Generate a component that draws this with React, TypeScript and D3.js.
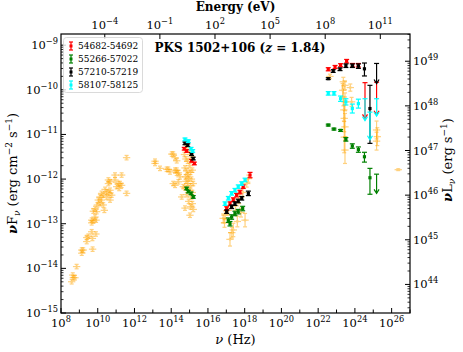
import * as d3 from 'd3';

const H_EV = 4.1357e-15; // Planck constant, eV s
const L_OFFSET = 58.36; // log10(4 pi dL^2) for z = 1.84

// archival data (orange), log10 nu / log10 nuFnu
const archNu = [8.58, 8.67, 8.76, 8.64, 8.85, 9.13, 9.13, 9.21, 9.72, 9.4, 9.4, 9.49, 9.71, 9.67, 9.9, 9.67, 9.67, 9.76, 9.85, 9.91, 9.76, 9.94, 9.85, 9.98, 10.12, 10.03, 10.21, 10.3, 10.12, 10.3, 10.49, 10.67, 10.36, 10.21, 10.49, 10.63, 10.4, 10.67, 10.76, 10.58, 10.58, 10.67, 10.94, 10.94, 11.12, 11.3, 11.21, 11.3, 11.03, 11.17, 11.57, 11.57,
  13.12, 13.12, 13.39, 13.75, 14.03, 13.93, 14.21, 14.3, 14.11, 14.21, 14.39, 14.11, 14.21, 14.3, 13.84, 14.3, 14.39, 14.48, 14.66, 14.57, 14.75, 15.02,
  14.72, 14.8, 14.9, 15.0, 14.75, 14.85, 15.05, 14.78, 14.95, 15.1, 14.8, 14.9, 15.05, 14.75, 15.0, 15.15, 14.85, 15.1, 14.95, 15.15, 15.05, 15.2, 14.9, 15.15, 15.2, 14.82, 15.0, 15.1];
const archF = [-14.3, -14.21, -14.21, -14.15, -13.96, -13.66, -13.59, -13.59, -13.57, -13.4, -13.31, -13.28, -13.33, -13.18, -13.23, -12.98, -12.92, -12.94, -12.85, -12.92, -12.72, -12.73, -12.66, -12.58, -12.55, -12.47, -12.47, -12.58, -12.4, -12.36, -12.4, -12.47, -12.7, -12.32, -12.29, -12.32, -12.23, -12.25, -12.36, -12.1, -12.02, -12.06, -11.91, -12.02, -12.1, -11.91, -12.1, -12.14, -12.17, -12.21, -12.32, -11.52,
  -11.65, -11.6, -11.76, -11.78, -11.44, -11.84, -11.8, -11.87, -12.1, -12.14, -12.06, -11.44, -11.52, -11.59, -11.78, -11.8, -11.86, -11.95, -12.17, -12.4, -12.65, -12.81,
  -11.45, -11.55, -11.6, -11.7, -11.75, -11.82, -11.85, -11.95, -11.98, -12.0, -12.05, -12.1, -12.15, -12.2, -12.25, -12.3, -12.35, -12.4, -12.5, -12.55, -12.62, -12.68, -11.9, -11.8, -12.1, -11.3, -11.4, -11.5];

const archXNu = [16.83, 16.93, 17.38, 18.02, 18.2, 18.11, 17.1, 17.5, 17.7, 17.9, 17.6, 16.9, 17.3, 17.2, 17.8];
const archXF = [-12.88, -12.81, -13.14, -12.92, -11.99, -12.1, -12.7, -12.6, -12.45, -12.3, -12.95, -12.98, -13.2, -13.35, -12.75];
const archXErr = [0.1, 0.1, 0.15, 0.15, 0.08, 0.08, 0.1, 0.1, 0.1, 0.1, 0.12, 0.1, 0.12, 0.15, 0.1];

const archGNu = [22.64, 23.37, 23.46, 23.33, 23.37, 23.46, 23.4, 23.42, 23.46, 23.42, 23.46, 23.82, 23.75, 25.18, 25.22, 25.18, 26.36];
const archGF = [-9.7, -9.82, -9.9, -10.01, -10.16, -10.27, -10.45, -10.64, -10.83, -11.06, -11.35, -10.27, -9.95, -10.9, -11.05, -11.15, -11.79];
const archGErr = [0.05, 0.1, 0.1, 0.15, 0.2, 0.2, 0.25, 0.3, 0.3, 0.35, 0.3, 0.1, 0.08, 0.2, 0.2, 0.2, 0.02];

// epoch 54682-54692 (red)
const ep1Nu = [14.71, 14.84, 15.11, 15.26, 17.02, 17.2, 17.38, 17.56, 17.74, 17.92, 18.29, 22.55, 22.92, 23.22, 23.55, 23.88, 24.19];
const ep1F = [-11.32, -11.37, -11.59, -11.65, -12.66, -12.55, -12.46, -12.36, -12.29, -12.17, -11.91, -9.54, -9.49, -9.45, -9.36, -9.45, -9.45];
const ep1Lo = [0.03, 0.03, 0.03, 0.03, 0.04, 0.04, 0.04, 0.04, 0.04, 0.04, 0.06, 0.035, 0.035, 0.035, 0.04, 0.04, 0.04];
const ep1Hi = ep1Lo;
const ep1UlNu = [24.55, 25.18];
const ep1UlTop = [-9.84, -9.83];
const ep1UlBot = [-10.64, -10.56];

// epoch 55266-57022 (green)
const ep2Nu = [14.84, 14.93, 15.08, 15.2, 17.11, 17.2, 17.29, 17.47, 17.65, 17.89, 22.55, 22.86, 23.22, 23.51, 23.86, 24.19, 24.52, 24.82];
const ep2F = [-12.21, -12.28, -12.32, -12.4, -12.92, -13.0, -12.85, -12.77, -12.73, -12.66, -10.79, -10.88, -10.91, -11.11, -11.26, -11.34, -11.5, -11.97];
const ep2Lo = [0.03, 0.03, 0.03, 0.03, 0.05, 0.05, 0.05, 0.05, 0.05, 0.05, 0.02, 0.02, 0.02, 0.04, 0.05, 0.06, 0.12, 0.37];
const ep2Hi = [0.03, 0.03, 0.03, 0.03, 0.05, 0.05, 0.05, 0.05, 0.05, 0.05, 0.02, 0.02, 0.02, 0.04, 0.05, 0.06, 0.1, 0.21];
const ep2UlNu = [25.18];
const ep2UlTop = [-11.89];
const ep2UlBot = [-12.32];

// epoch 57210-57219 (black)
const ep3Nu = [14.75, 14.9, 15.11, 15.2, 17.02, 17.29, 17.47, 17.65, 17.84, 18.2, 22.55, 22.82, 23.19, 23.51, 23.86, 24.19, 24.52, 24.82];
const ep3F = [-11.2, -11.24, -11.44, -11.54, -12.73, -12.62, -12.55, -12.49, -12.43, -12.32, -9.75, -9.58, -9.54, -9.46, -9.46, -9.47, -9.53, -10.42];
const ep3Lo = [0.03, 0.03, 0.03, 0.03, 0.04, 0.04, 0.04, 0.04, 0.04, 0.05, 0.02, 0.03, 0.03, 0.04, 0.04, 0.05, 0.16, 0.78];
const ep3Hi = [0.03, 0.03, 0.03, 0.03, 0.04, 0.04, 0.04, 0.04, 0.04, 0.05, 0.02, 0.03, 0.03, 0.04, 0.04, 0.05, 0.13, 0.52];
const ep3UlNu = [25.18];
const ep3UlTop = [-9.41];
const ep3UlBot = [-9.86];

// epoch 58107-58125 (cyan)
const ep4Nu = [14.75, 14.93, 15.08, 15.17, 16.93, 17.11, 17.29, 17.47, 17.65, 17.84, 18.02, 22.55, 22.86, 23.22, 23.51, 23.86, 24.19];
const ep4F = [-11.11, -11.15, -11.32, -11.37, -12.55, -12.43, -12.32, -12.25, -12.17, -12.1, -12.02, -10.08, -10.08, -10.2, -10.27, -10.42, -10.31];
const ep4Lo = [0.03, 0.03, 0.03, 0.03, 0.04, 0.04, 0.04, 0.04, 0.04, 0.04, 0.04, 0.04, 0.04, 0.06, 0.07, 0.1, 0.1];
const ep4Hi = ep4Lo;
const ep4UlNu = [24.55, 24.82, 25.18];
const ep4UlTop = [-10.2, -10.5, -10.2];
const ep4UlBot = [-10.69, -11.12, -10.59];

const epochLabels = ['54682-54692', '55266-57022', '57210-57219', '58107-58125'];
const epochColors = ['#ff0000', '#008000', '#000000', '#00ffff'];

const xTickExps = [8, 10, 12, 14, 16, 18, 20, 22, 24, 26];
const yTickExps = [-15, -14, -13, -12, -11, -10, -9];
const rTickExps = [44, 45, 46, 47, 48, 49];
const eTickExps = [-4, -1, 2, 5, 8, 11];

const W = 463, H = 352;
const L = 61, R = 410, T = 34, B = 313;
const FONT = 'DejaVu Serif';

const x = d3.scaleLog().domain([1e8, 1e27]).range([L, R]);
const y = d3.scaleLog().domain([1e-15, Math.pow(10, -8.75)]).range([B, T]);
const yR = d3.scaleLog().domain([Math.pow(10, -15 + L_OFFSET), Math.pow(10, -8.75 + L_OFFSET)]).range([B, T]);
const xE = d3.scaleLog().domain([1e8 * H_EV, 1e27 * H_EV]).range([L, R]);

const p = (v: number) => Math.pow(10, v);

function minorVals(scale: any, lo: number, hi: number) {
  const out: number[] = [];
  for (let d = lo; d <= hi; d++) for (let k = 2; k <= 9; k++) {
    const v = k * p(d);
    const [a, b] = scale.domain();
    if (v > a && v < b) out.push(v);
  }
  return out;
}

const Pow = ({ x, y, e, anchor, size = 11.5 }: any) => (
  <text x={x} y={y} textAnchor={anchor} fontFamily={FONT} fontSize={size}>
    10<tspan dy={-5} fontSize={size * 0.72}>{e < 0 ? '\u2212' + -e : e}</tspan>
  </text>
);

function ErrPoint({ nu, f, lo, hi, color }: any) {
  const cx = x(p(nu)), cy = y(p(f));
  const y1 = y(p(f + hi)), y2 = y(p(f - lo));
  return (
    <g stroke={color} strokeWidth={1.2}>
      <line x1={cx} x2={cx} y1={y1} y2={y2} />
      <line x1={cx - 2.5} x2={cx + 2.5} y1={y1} y2={y1} />
      <line x1={cx - 2.5} x2={cx + 2.5} y1={y2} y2={y2} />
      <rect x={cx - 1.6} y={cy - 1.6} width={3.2} height={3.2} fill={color} stroke="none" />
    </g>
  );
}

function UpperLim({ nu, top, bot, color }: any) {
  const cx = x(p(nu)), y1 = y(p(top)), y2 = y(p(bot));
  return (
    <g stroke={color} strokeWidth={1.2} fill="none">
      <line x1={cx} x2={cx} y1={y1} y2={y2} />
      <line x1={cx - 2.5} x2={cx + 2.5} y1={y1} y2={y1} />
      <polyline points={`${cx - 2.5},${y2 - 4} ${cx},${y2} ${cx + 2.5},${y2 - 4}`} />
    </g>
  );
}

function ArchPoint({ nu, f, err }: any) {
  const cx = x(p(nu)), cy = y(p(f));
  const x1 = x(p(nu - 0.2)), x2 = x(p(nu + 0.2));
  const y1 = y(p(f + err)), y2 = y(p(f - err));
  return (
    <g stroke="#ffa500" strokeWidth={1.2} opacity={0.5}>
      <line x1={x1} x2={x2} y1={cy} y2={cy} />
      <line x1={cx} x2={cx} y1={y1} y2={y2} />
      <line x1={cx - 2} x2={cx + 2} y1={y1} y2={y1} />
      <line x1={cx - 2} x2={cx + 2} y1={y2} y2={y2} />
      <circle cx={cx} cy={cy} r={1.4} fill="#ffa500" stroke="none" />
    </g>
  );
}

const epochs = [
  { nu: ep1Nu, f: ep1F, lo: ep1Lo, hi: ep1Hi, ulNu: ep1UlNu, ulTop: ep1UlTop, ulBot: ep1UlBot },
  { nu: ep2Nu, f: ep2F, lo: ep2Lo, hi: ep2Hi, ulNu: ep2UlNu, ulTop: ep2UlTop, ulBot: ep2UlBot },
  { nu: ep3Nu, f: ep3F, lo: ep3Lo, hi: ep3Hi, ulNu: ep3UlNu, ulTop: ep3UlTop, ulBot: ep3UlBot },
  { nu: ep4Nu, f: ep4F, lo: ep4Lo, hi: ep4Hi, ulNu: ep4UlNu, ulTop: ep4UlTop, ulBot: ep4UlBot },
];

export default function App() {
  const xDecades = d3.range(8, 28);
  const yMinor = minorVals(y, -15, -9);
  const rMinor = minorVals(yR, 43, 49);

  return (
    <svg width={W} height={H} style={{ position: 'absolute', left: 0, top: 0, background: '#fff' }}>
      {/* archival */}
      {archNu.map((n, i) => <ArchPoint key={'a' + i} nu={n} f={archF[i]} err={0.05} />)}
      {archXNu.map((n, i) => <ArchPoint key={'x' + i} nu={n} f={archXF[i]} err={archXErr[i]} />)}
      {archGNu.map((n, i) => <ArchPoint key={'g' + i} nu={n} f={archGF[i]} err={archGErr[i]} />)}

      {/* epochs */}
      {epochs.map((ep, k) => (
        <g key={'ep' + k}>
          {ep.nu.map((n, i) => <ErrPoint key={i} nu={n} f={ep.f[i]} lo={ep.lo[i]} hi={ep.hi[i]} color={epochColors[k]} />)}
          {ep.ulNu.map((n, i) => <UpperLim key={'u' + i} nu={n} top={ep.ulTop[i]} bot={ep.ulBot[i]} color={epochColors[k]} />)}
        </g>
      ))}

      {/* frame */}
      <rect x={L} y={T} width={R - L} height={B - T} fill="none" stroke="#000" strokeWidth={1.2} />

      {/* bottom axis */}
      {xDecades.map(d => (
        <line key={'xt' + d} x1={x(p(d))} x2={x(p(d))} y1={B} y2={B - (d % 2 === 0 ? 5 : 3.5)} stroke="#000" strokeWidth={1} />
      ))}
      {xTickExps.map(e => <Pow key={'xl' + e} x={x(p(e))} y={B + 14} e={e} anchor="middle" />)}
      <text x={(L + R) / 2} y={344} textAnchor="middle" fontFamily={FONT} fontSize={13}>
        <tspan fontStyle="italic">ν</tspan> (Hz)
      </text>

      {/* top axis (energy) */}
      {eTickExps.map(e => (
        <g key={'et' + e}>
          <line x1={xE(p(e))} x2={xE(p(e))} y1={T} y2={T + 5} stroke="#000" strokeWidth={1} />
          <Pow x={xE(p(e))} y={T - 5} e={e} anchor="middle" />
        </g>
      ))}
      <text x={(L + R) / 2} y={11} textAnchor="middle" fontFamily={FONT} fontSize={12} fontWeight="bold">Energy (eV)</text>

      {/* left axis */}
      {yTickExps.map(e => (
        <g key={'yt' + e}>
          <line x1={L} x2={L + 5} y1={y(p(e))} y2={y(p(e))} stroke="#000" strokeWidth={1} />
          <Pow x={L - 3} y={y(p(e)) + 4} e={e} anchor="end" />
        </g>
      ))}
      {yMinor.map((v, i) => <line key={'ym' + i} x1={L} x2={L + 2.5} y1={y(v)} y2={y(v)} stroke="#000" strokeWidth={0.8} />)}
      <text transform={`translate(17,${(T + B) / 2}) rotate(-90)`} textAnchor="middle" fontFamily={FONT} fontSize={13}>
        <tspan fontStyle="italic" fontWeight="bold">ν</tspan>F<tspan fontSize={9} dy={3} fontStyle="italic">ν</tspan>
        <tspan dy={-3}> (erg cm</tspan><tspan fontSize={9} dy={-5}>−2</tspan><tspan dy={5}> s</tspan><tspan fontSize={9} dy={-5}>−1</tspan><tspan dy={5}>)</tspan>
      </text>

      {/* right axis */}
      {rTickExps.map(e => (
        <g key={'rt' + e}>
          <line x1={R} x2={R - 5} y1={yR(p(e))} y2={yR(p(e))} stroke="#000" strokeWidth={1} />
          <Pow x={R + 3} y={yR(p(e)) + 4} e={e} anchor="start" />
        </g>
      ))}
      {rMinor.map((v, i) => <line key={'rm' + i} x1={R} x2={R - 2.5} y1={yR(v)} y2={yR(v)} stroke="#000" strokeWidth={0.8} />)}
      <text transform={`translate(452,160) rotate(-90)`} textAnchor="middle" fontFamily={FONT} fontSize={13}>
        <tspan fontStyle="italic" fontWeight="bold">ν</tspan>L<tspan fontSize={9} dy={3} fontStyle="italic">ν</tspan>
        <tspan dy={-3}> (erg s</tspan><tspan fontSize={9} dy={-5}>−1</tspan><tspan dy={5}>)</tspan>
      </text>

      {/* title */}
      <text x={240} y={52} textAnchor="middle" fontFamily={FONT} fontSize={12} fontWeight="bold">
        PKS 1502+106 (<tspan fontStyle="italic">z</tspan> = 1.84)
      </text>

      {/* legend */}
      <rect x={63.5} y={37.5} width={79} height={55} rx={3} fill="#fff" fillOpacity={0.8} stroke="#d0d0d0" strokeWidth={0.8} />
      {epochLabels.map((lab, i) => {
        const ly = 46 + i * 13;
        const c = epochColors[i];
        return (
          <g key={'lg' + i}>
            <g stroke={c} strokeWidth={1.2}>
              <line x1={71} x2={71} y1={ly - 4} y2={ly + 4} />
              <line x1={69} x2={73} y1={ly - 4} y2={ly - 4} />
              <line x1={69} x2={73} y1={ly + 4} y2={ly + 4} />
              <rect x={69.5} y={ly - 1.5} width={3} height={3} fill={c} stroke="none" />
            </g>
            <text x={78} y={ly + 3.2} fontFamily={FONT} fontSize={9}>{lab}</text>
          </g>
        );
      })}
    </svg>
  );
}
